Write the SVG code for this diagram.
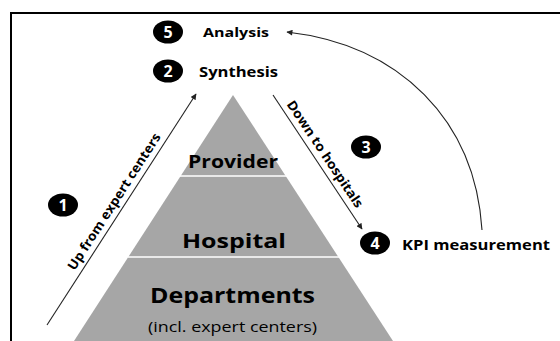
<svg xmlns="http://www.w3.org/2000/svg" width="560" height="341" viewBox="0 0 560 341">
<style>
.lbl{font-family:"Open Sans","Liberation Sans",sans-serif;font-weight:bold;fill:#000}
.num{font-family:"Open Sans","Liberation Sans",sans-serif;font-weight:bold;fill:#fff;font-size:16px;text-anchor:middle}
.badge{fill:#000}
.conn{fill:none;stroke:#222;stroke-width:1.1}
.div{stroke:#fff;stroke-width:1.5}
</style>
<defs>
<marker id="ah" viewBox="0 0 10 10" refX="9" refY="5" markerWidth="7" markerHeight="6" markerUnits="userSpaceOnUse" orient="auto">
<path d="M0,0 L10,5 L0,10 z" fill="#222"/>
</marker>
</defs>
<rect width="560" height="341" fill="#fff"/>
<path d="M11,341 V13 H560" fill="none" stroke="#000" stroke-width="2"/>

<g id="pyramid">
<polygon points="233,95 393,341 74,341" fill="#a6a6a6"/>
<line class="div" x1="180" y1="176" x2="287" y2="176"/>
<line class="div" x1="128" y1="257" x2="339" y2="257"/>
<text class="lbl" x="233" y="168" font-size="17" text-anchor="middle" textLength="90" lengthAdjust="spacingAndGlyphs">Provider</text>
<text class="lbl" x="234" y="248" font-size="20" text-anchor="middle" textLength="104" lengthAdjust="spacingAndGlyphs">Hospital</text>
<text class="lbl" x="232.5" y="303" font-size="21" text-anchor="middle" textLength="165" lengthAdjust="spacingAndGlyphs">Departments</text>
<text x="232.5" y="332" font-family="Open Sans, Liberation Sans, sans-serif" font-size="14" text-anchor="middle" textLength="169" lengthAdjust="spacingAndGlyphs">(incl. expert centers)</text>
</g>

<g id="step5">
<ellipse class="badge" cx="168" cy="32" rx="15" ry="11.5"/>
<text class="num" x="168" y="38">5</text>
<text class="lbl" x="203" y="37" font-size="13" textLength="66" lengthAdjust="spacingAndGlyphs">Analysis</text>
</g>
<g id="step2">
<ellipse class="badge" cx="168" cy="71" rx="15" ry="11.5"/>
<text class="num" x="168" y="77">2</text>
<text class="lbl" x="199" y="77" font-size="14" textLength="79" lengthAdjust="spacingAndGlyphs">Synthesis</text>
</g>
<g id="step1">
<ellipse class="badge" cx="63" cy="205" rx="15" ry="11.5"/>
<text class="num" x="63" y="211">1</text>
</g>
<g id="step3">
<ellipse class="badge" cx="366" cy="147" rx="15" ry="11.5"/>
<text class="num" x="366" y="153">3</text>
</g>
<g id="step4">
<ellipse class="badge" cx="375" cy="243" rx="15" ry="11.5"/>
<text class="num" x="375" y="249">4</text>
<text class="lbl" x="402" y="250" font-size="14" textLength="148" lengthAdjust="spacingAndGlyphs">KPI measurement</text>
</g>

<g id="connectors">
<line class="conn" x1="47" y1="325" x2="196" y2="94" marker-end="url(#ah)"/>
<text class="lbl" font-size="13" text-anchor="middle" textLength="160" lengthAdjust="spacingAndGlyphs" transform="translate(117.9,204.1) rotate(-57.2)">Up from expert centers</text>
<line class="conn" x1="273" y1="95" x2="362" y2="229" marker-end="url(#ah)"/>
<text class="lbl" font-size="13" text-anchor="middle" textLength="126" lengthAdjust="spacingAndGlyphs" transform="translate(321.4,156.5) rotate(56.2)">Down to hospitals</text>
<path class="conn" d="M482,230 C475,120 400,45 287,32" marker-end="url(#ah)"/>
</g>
</svg>
